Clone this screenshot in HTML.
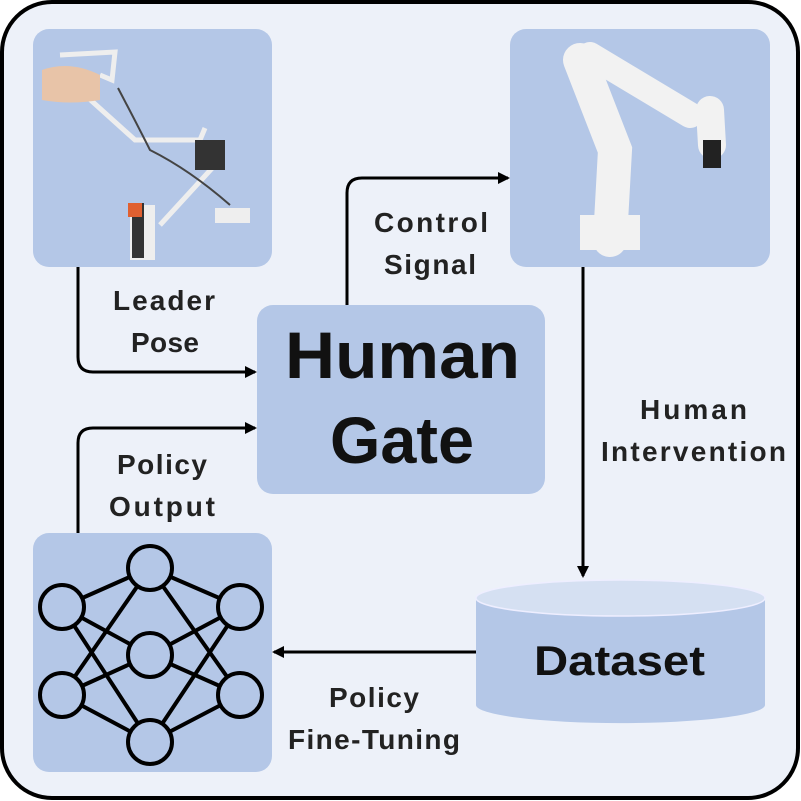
<!DOCTYPE html>
<html><head><style>
body{margin:0;width:801px;height:801px;background:#fff;overflow:hidden}
svg{display:block}
text{font-family:"Liberation Sans",sans-serif;font-weight:bold;fill:#222}
</style></head><body>
<svg width="801" height="801" viewBox="0 0 801 801">
<defs><marker id="a" markerWidth="12" markerHeight="12" refX="10" refY="6" orient="auto" markerUnits="userSpaceOnUse"><path d="M0,0 L12,6 L0,12 Z" fill="#000"/></marker></defs>
<rect x="2" y="2" width="796" height="796" rx="50" fill="#edf1f9" stroke="#000" stroke-width="4"/>
<rect x="33" y="29" width="239" height="238" rx="16" fill="#b4c7e7"/>
<rect x="510" y="29" width="260" height="238" rx="16" fill="#b4c7e7"/>
<rect x="257" y="305" width="288" height="189" rx="16" fill="#b4c7e7"/>
<rect x="33" y="533" width="239" height="239" rx="16" fill="#b4c7e7"/>
<g fill="none" stroke="#eee" stroke-width="5">
<path d="M60,55 L115,52 L112,80 L100,75"/><path d="M85,95 L135,140 L200,140 L205,128"/>
<path d="M215,165 L160,225"/></g>
<path d="M42,70 Q70,60 100,75 L100,100 Q70,105 42,100 Z" fill="#e8c4a8"/>
<path d="M118,88 Q140,130 150,150 Q190,170 230,205" fill="none" stroke="#444" stroke-width="2"/>
<rect x="195" y="140" width="30" height="30" fill="#333"/>
<rect x="130" y="205" width="25" height="55" fill="#eee"/><rect x="132" y="203" width="12" height="55" fill="#333"/>
<rect x="128" y="203" width="14" height="14" fill="#e06030"/>
<rect x="215" y="208" width="35" height="15" fill="#eee"/>
<g stroke="#f2f2f2" stroke-linecap="round" fill="none">
<path d="M610,240 L615,150 L580,60" stroke-width="34"/>
<path d="M590,55 L690,115" stroke-width="26"/>
<path d="M710,110 L712,145" stroke-width="28"/></g>
<rect x="580" y="215" width="60" height="35" fill="#f2f2f2"/>
<rect x="703" y="140" width="18" height="28" fill="#222"/>
<text x="285" y="378" font-size="66" textLength="235" lengthAdjust="spacingAndGlyphs" style="fill:#111">Human</text>
<text x="330" y="463" font-size="66" textLength="144" lengthAdjust="spacingAndGlyphs" style="fill:#111">Gate</text>
<g stroke="#000" stroke-width="4">
<path d="M62,607 L150,568 M62,607 L150,655 M62,607 L150,742 M62,695 L150,568 M62,695 L150,655 M62,695 L150,742 M240,607 L150,568 M240,607 L150,655 M240,607 L150,742 M240,695 L150,568 M240,695 L150,655 M240,695 L150,742"/>
<g fill="#b4c7e7"><circle cx="62" cy="607" r="22"/><circle cx="62" cy="695" r="22"/><circle cx="150" cy="568" r="22"/><circle cx="150" cy="655" r="22"/><circle cx="150" cy="742" r="22"/><circle cx="240" cy="607" r="22"/><circle cx="240" cy="695" r="22"/></g></g>
<path d="M476,598 L476,705 A144,18 0 0 0 765,705 L765,598 Z" fill="#b4c7e7"/>
<ellipse cx="620.5" cy="598" rx="144.5" ry="18" fill="#d5e0f2" stroke="#eef" stroke-width="1.5"/>
<text x="534" y="675" font-size="42" textLength="171" lengthAdjust="spacingAndGlyphs" style="fill:#111">Dataset</text>
<g fill="none" stroke="#000" stroke-width="3">
<path d="M78,267 L78,357 Q78,372 93,372 L255,372" marker-end="url(#a)"/>
<path d="M78,533 L78,443 Q78,428 93,428 L255,428" marker-end="url(#a)"/>
<path d="M347,305 L347,193 Q347,178 362,178 L508,178" marker-end="url(#a)"/>
<path d="M583,267 L583,576" marker-end="url(#a)"/>
<path d="M476,652 L274,652" marker-end="url(#a)"/>
</g>
<g font-size="28" lengthAdjust="spacingAndGlyphs">
<text x="113" y="310" textLength="102">Leader</text><text x="131" y="352" textLength="68">Pose</text>
<text x="374" y="232" textLength="114">Control</text><text x="384" y="274" textLength="92">Signal</text>
<text x="640" y="419" textLength="107">Human</text><text x="601" y="461" textLength="185">Intervention</text>
<text x="117" y="474" textLength="90">Policy</text><text x="109" y="516" textLength="106">Output</text>
<text x="329" y="707" textLength="90">Policy</text><text x="288" y="749" textLength="172">Fine-Tuning</text>
</g>
</svg>
</body></html>
